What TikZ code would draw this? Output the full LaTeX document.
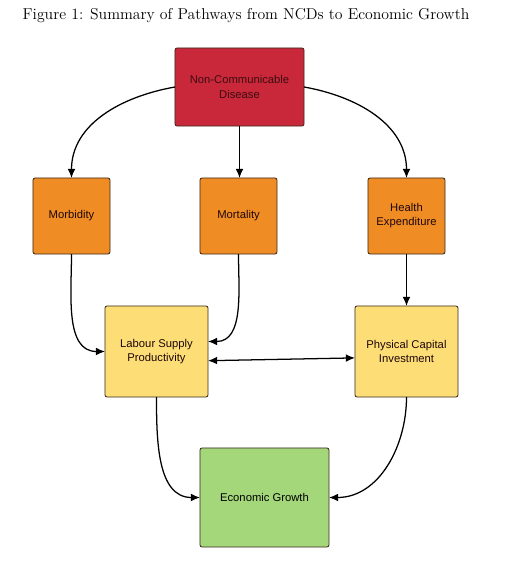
\documentclass[tikz,border=0pt]{standalone}
\usepackage{fontspec}
\newfontfamily\boxfont{Liberation Sans}
\usetikzlibrary{arrows.meta}
\definecolor{ncdred}{HTML}{C9283A}
\definecolor{midorange}{HTML}{F08C24}
\definecolor{lowyellow}{HTML}{FDDE76}
\definecolor{endgreen}{HTML}{A4D77A}
\definecolor{boxline}{HTML}{3A2A1E}
\begin{document}
\begin{tikzpicture}[
x=0.025cm, y=-0.025cm,
every node/.style={rectangle, rounded corners=1.5pt, draw=boxline, line width=0.6pt,
  inner sep=0pt, outer sep=0pt, align=center, text=black!85!ncdred,
  font=\boxfont\fontsize{8}{10}\selectfont},
topbox/.style={fill=ncdred, text=black!70!ncdred, minimum width=3.225cm, minimum height=1.95cm},
midbox/.style={fill=midorange, minimum width=1.925cm, minimum height=1.9cm},
lowbox/.style={fill=lowyellow, minimum width=2.575cm, minimum height=2.275cm},
endbox/.style={fill=endgreen, text=black, minimum width=3.225cm, minimum height=2.475cm},
link/.style={-{Latex[length=6.5pt,width=5.5pt]}, line width=0.9pt, black}
]
\useasboundingbox (0,0) rectangle (512,563);
\node[draw=none, rounded corners=0pt, text=black, font=\fontsize{11.2}{13}\selectfont] (title) at (246,16)
  {Figure 1: Summary of Pathways from NCDs to Economic Growth};

\node[topbox] (ncd) at (239.5,87) {Non-Communicable\\Disease};

\node[midbox] (morb) at (71.5,216) {Morbidity};
\node[midbox] (mort) at (238.5,216) {Mortality};
\node[midbox] (health) at (406.5,216) {Health\\Expenditure};

\node[lowbox] (labour) at (156.5,351.5) {Labour Supply\\Productivity};
\node[lowbox] (capital) at (406.5,351.5) {Physical Capital\\Investment};

\node[endbox] (growth) at (264.5,497.5) {Economic Growth};

% first level
\draw[link] (ncd.west) to[out=190, in=90] (morb.north);
\draw[link] (ncd.south) -- (ncd.south |- mort.north);
\draw[link] (ncd.east) to[out=-10, in=90] (health.north);

% second level
\draw[link] (morb.south) to[out=-90, in=180] (labour.west);
\draw[link] (mort.south) to[out=-90, in=0] ([yshift=0.25cm]labour.east);
\draw[link] (health.south) -- (capital.north);
\draw[link, {Latex[length=6.5pt,width=5.5pt]}-{Latex[length=6.5pt,width=5.5pt]}] ([yshift=-0.23cm]labour.east) -- ([yshift=-0.16cm]capital.west);

% last level
\draw[link] (labour.south) to[out=-90, in=180] (growth.west);
\draw[link] (capital.south) to[out=-90, in=0] (growth.east);
\end{tikzpicture}
\end{document}
